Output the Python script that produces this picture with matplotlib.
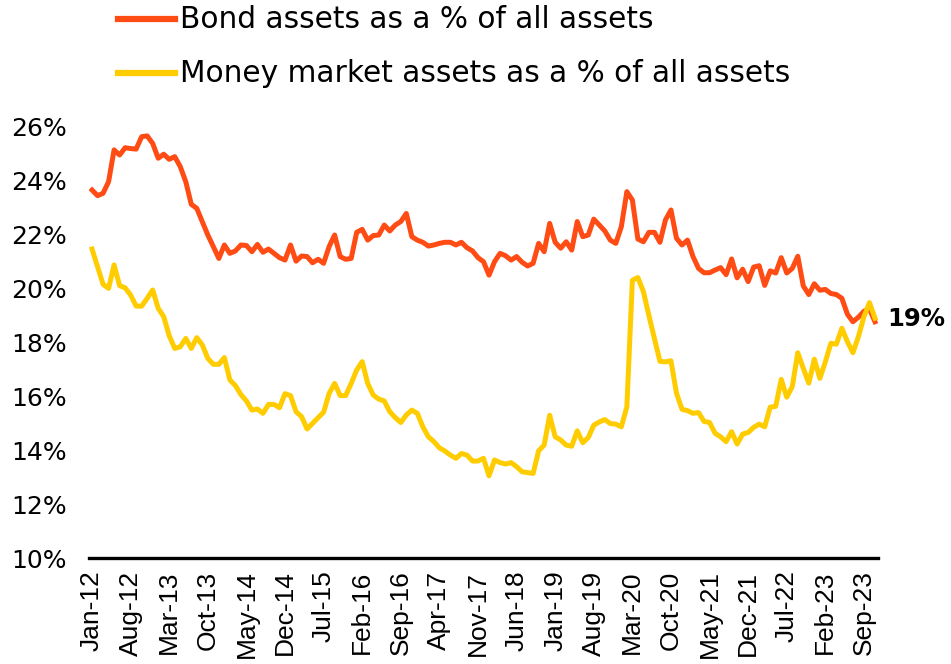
import numpy as np
import pandas as pd
from matplotlib import pyplot as plt
from matplotlib.lines import Line2D

# monthly, Jan-12 .. Nov-23
months = pd.date_range('2012-01-01', periods=143, freq='MS')
month_labels = [d.strftime('%b-%y') for d in months]

bond_pct = [
    23.66, 23.45, 23.54, 23.97, 25.15, 24.96, 25.23, 25.20, 25.18, 25.64,
    25.67, 25.39, 24.84, 24.99, 24.80, 24.90, 24.53, 23.97, 23.13, 22.98,
    22.49, 21.99, 21.56, 21.12, 21.62, 21.31, 21.40, 21.62, 21.60, 21.37,
    21.64, 21.35, 21.47, 21.31, 21.15, 21.06, 21.62, 21.02, 21.21, 21.19,
    20.96, 21.09, 20.94, 21.56, 21.99, 21.19, 21.09, 21.12, 22.09, 22.20,
    21.80, 21.97, 21.99, 22.36, 22.14, 22.36, 22.49, 22.79, 21.93, 21.80,
    21.72, 21.58, 21.62, 21.68, 21.72, 21.72, 21.62, 21.72, 21.52, 21.40,
    21.15, 21.00, 20.50, 21.00, 21.31, 21.22, 21.06, 21.19, 20.98, 20.84,
    20.94, 21.68, 21.37, 22.42, 21.72, 21.50, 21.74, 21.43, 22.49, 21.93,
    21.99, 22.58, 22.36, 22.14, 21.80, 21.68, 22.30, 23.60, 23.29, 21.84,
    21.74, 22.09, 22.09, 21.72, 22.55, 22.92, 21.87, 21.62, 21.80, 21.19,
    20.75, 20.59, 20.59, 20.69, 20.78, 20.52, 21.10, 20.40, 20.72, 20.26,
    20.80, 20.85, 20.12, 20.66, 20.58, 21.15, 20.58, 20.75, 21.20, 20.10,
    19.78, 20.18, 19.94, 19.97, 19.82, 19.78, 19.64, 19.05, 18.77, 18.94,
    19.16, 19.25, 18.77,
]

money_market_pct = [
    21.47, 20.81, 20.16, 20.01, 20.88, 20.11, 20.03, 19.76, 19.35, 19.35,
    19.64, 19.95, 19.27, 18.96, 18.25, 17.78, 17.84, 18.15, 17.78, 18.18,
    17.91, 17.41, 17.19, 17.19, 17.44, 16.61, 16.40, 16.07, 15.83, 15.49,
    15.53, 15.37, 15.70, 15.70, 15.58, 16.10, 16.03, 15.43, 15.25, 14.79,
    15.00, 15.21, 15.41, 16.11, 16.48, 16.03, 16.03, 16.48, 16.98, 17.29,
    16.48, 16.05, 15.90, 15.83, 15.43, 15.21, 15.03, 15.31, 15.49, 15.37,
    14.87, 14.50, 14.32, 14.09, 13.97, 13.82, 13.70, 13.88, 13.82, 13.60,
    13.60, 13.70, 13.05, 13.64, 13.54, 13.49, 13.54, 13.39, 13.20, 13.17,
    13.14, 13.98, 14.19, 15.30, 14.50, 14.38, 14.19, 14.15, 14.72, 14.28,
    14.47, 14.93, 15.05, 15.14, 14.99, 14.97, 14.87, 15.61, 20.31, 20.41,
    19.89, 19.00, 18.15, 17.30, 17.28, 17.32, 16.12, 15.52, 15.47, 15.37,
    15.40, 15.07, 15.03, 14.63, 14.50, 14.32, 14.69, 14.23, 14.60, 14.66,
    14.85, 14.97, 14.87, 15.60, 15.63, 16.63, 15.97, 16.36, 17.62, 17.04,
    16.49, 17.38, 16.67, 17.28, 17.97, 17.94, 18.53, 18.03, 17.62, 18.22,
    18.96, 19.48, 18.90,
]

bond_color = '#ff4b14'
mm_color = '#ffcc00'
end_label = '19%'

plt.rcParams['font.family'] = 'DejaVu Sans'

fig = plt.figure(figsize=(9.51, 6.64), dpi=100)
ax = fig.add_axes([89 / 951, 1 - 558 / 664, 789 / 951, 431 / 664])

x = np.arange(len(months))
ax.plot(x, bond_pct, color=bond_color, lw=3.6, solid_joinstyle='round')
ax.plot(x, money_market_pct, color=mm_color, lw=3.6, solid_joinstyle='round')

ax.set_xlim(-0.55, len(months) - 0.45)
ax.set_ylim(10, 26)
ax.set_yticks(range(10, 27, 2))
ax.set_yticklabels([f'{v}%' for v in range(10, 27, 2)], fontsize=18)
ax.set_xticks(x[::7])
ax.set_xticklabels(month_labels[::7], rotation=90, fontsize=19,
                   family='Liberation Sans')
ax.tick_params(axis='both', length=0)
ax.tick_params(axis='y', pad=16)
ax.tick_params(axis='x', pad=9)

for side in ['top', 'right', 'left']:
    ax.spines[side].set_visible(False)
ax.spines['bottom'].set_linewidth(2.4)
ax.spines['bottom'].set_color('black')

ax.annotate(end_label, xy=(x[-1], bond_pct[-1]), xytext=(9, 2),
            textcoords='offset points', va='center', ha='left',
            fontsize=17.5, fontweight='bold')

# legend drawn by hand at the top
for yy, color, text in [(1 - 19 / 664, bond_color, 'Bond assets as a % of all assets'),
                        (1 - 73 / 664, mm_color, 'Money market assets as a % of all assets')]:
    fig.add_artist(Line2D([118 / 951, 175 / 951], [yy, yy], color=color, lw=4.5))
    fig.text(180 / 951, yy, text, fontsize=21.3, va='center', ha='left')

fig.savefig('out.png', dpi=100)
